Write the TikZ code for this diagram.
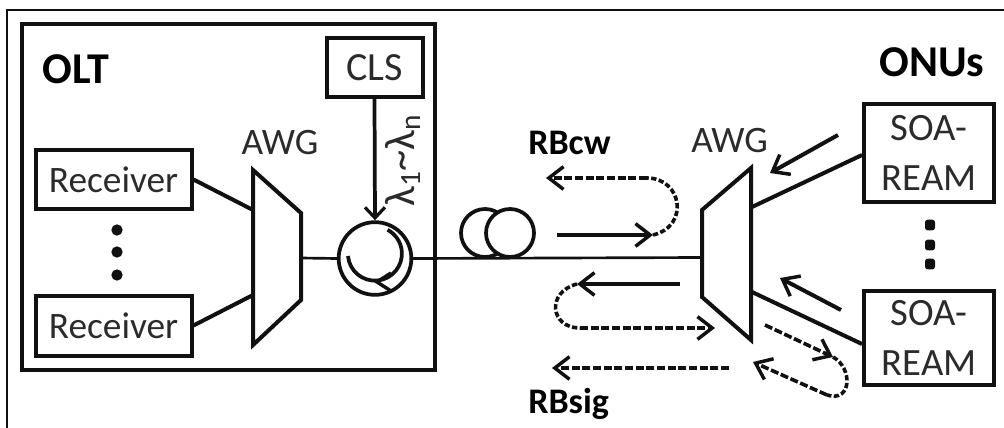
\documentclass[tikz,border=0pt]{standalone}
\usepackage{fontspec}
\setmainfont{Carlito}
\usetikzlibrary{arrows.meta}
\definecolor{ink}{HTML}{111111}
\definecolor{txt}{HTML}{2B2B2B}
\tikzset{x=0.75pt,y=-0.75pt,
 barb/.tip={Straight Barb[length=11pt,width=17pt,line width=2.6pt]},
 wire/.style={draw=ink,line width=3pt},
 fibre/.style={draw=ink,line width=2pt},
 boxnode/.style={draw=ink,line width=3pt,fill=white,align=center,inner sep=0pt,text=txt,font=\fontsize{29}{37}\selectfont},
 lab/.style={inner sep=0pt,text=txt,font=\fontsize{28}{34}\selectfont},
 boldlab/.style={inner sep=0pt,text=black,font=\bfseries\fontsize{27}{32}\selectfont},
 titlelab/.style={inner sep=0pt,text=black,font=\bfseries\fontsize{33}{38}\selectfont},
 solidarrow/.style={draw=ink,line width=3pt,-barb},
 dasharrow/.style={draw=ink,line width=2.7pt,dash pattern=on 6pt off 2pt,-barb},
 dashline/.style={draw=ink,line width=2.7pt,dash pattern=on 4pt off 1.8pt},
 dotnode/.style={circle,fill=ink,inner sep=0pt,minimum size=8.5pt},
 squaredot/.style={rectangle,rounded corners=2pt,fill=ink,inner sep=0pt,minimum width=7.5pt,minimum height=8pt},
 ring/.style={draw=ink,circle,line width=2.8pt,inner sep=0pt}}
\begin{document}
\begin{tikzpicture}
\useasboundingbox (0,0) rectangle (1004,428);
\fill[white] (0,0) rectangle (1004,428);
\draw[draw=ink,line width=1.2pt] (7,428) -- (7,10) -- (1004,10);
\node[draw=ink,line width=2.6pt,inner sep=0pt,minimum width=309.75pt,minimum height=259.5pt] (oltbox) at (228.5,197) {};
\node[titlelab] (olt) at (76,69) {OLT};
\node[boxnode,font=\fontsize{30}{36}\selectfont,minimum width=72pt,minimum height=44pt] (cls) at (374.5,67.5) {CLS};
\node[boxnode,font=\fontsize{28}{34}\selectfont,minimum width=117pt,minimum height=44pt] (rx1) at (113.5,179.5) {Receiver};
\node[boxnode,font=\fontsize{28}{34}\selectfont,minimum width=117pt,minimum height=45pt] (rx2) at (113.5,325.5) {Receiver};
\node[lab,anchor=base] (awg1) at (280,155) {AWG};
\node[lab,anchor=base] (awg2) at (729.5,152) {AWG};
\coordinate (a1l) at (253,210);
\coordinate (a1ll) at (253,295);
\coordinate (a1r) at (301,258);
\draw[wire,line join=miter] (253,170) -- (301,213) -- (301,300) -- (253,345) -- cycle;
\draw[wire] (a1l) -- (rx1.east);
\draw[wire] (a1ll) -- (rx2.east);
\node[ring,minimum size=54.5pt] (circ) at (375,258.5) {};
\draw[fibre] (a1r) -- (circ.west);
\draw[draw=ink,line width=2.8pt] (348,256) arc[start angle=175,end angle=-62,radius=27];
\draw[draw=ink,line width=2.6pt,line join=miter] (391,273) -- (377,282) -- (391,291);
\draw[draw=ink,line width=2.8pt,-{Straight Barb[length=8pt,width=15pt,line width=2.4pt]}] (cls.south) -- (circ.north);
\node[lab,rotate=90,font=\fontsize{32}{38}\selectfont] (lam) at (403,161) {λ\raisebox{-4pt}{\fontsize{22}{26}\selectfont 1}\textasciitilde λ\raisebox{-4pt}{\fontsize{22}{26}\selectfont n}};
\node[ring,minimum size=36pt] (f1) at (485,233) {};
\node[ring,minimum size=36pt,fill=white] (f2) at (510,233) {};
\coordinate (a2l) at (702,257.5);
\draw[fibre] (circ.east) -- (a2l);
\draw[wire,line join=miter] (702,210) -- (751,168) -- (751,340) -- (702,297) -- cycle;
\node[titlelab] (onus) at (932,62) {ONUs};
\node[boxnode,minimum width=98pt,minimum height=73pt] (soa1) at (929,153) {SOA-\\REAM};
\node[boxnode,minimum width=98pt,minimum height=71pt] (soa2) at (929,338) {SOA-\\REAM};
\coordinate (a2t) at (752,207);
\coordinate (a2b) at (752,292);
\coordinate (s1) at (862,155);
\coordinate (s2) at (862,344);
\draw[wire] (a2t) -- (s1);
\draw[wire] (a2b) -- (s2);
\node[dotnode] (d1) at (117,230) {};
\node[dotnode] (d2) at (117,252) {};
\node[dotnode] (d3) at (117,275) {};
\node[squaredot] (d4) at (930,225) {};
\node[squaredot] (d5) at (930,245) {};
\node[squaredot] (d6) at (930,264) {};
\node[boldlab,anchor=base west] (rbcw) at (528,155) {RBcw};
\node[boldlab,anchor=base west] (rbsig) at (528,413) {RBsig};
% arrows
\draw[solidarrow] (557,235) -- (653,235);
\draw[dashline] (653,235) .. controls (690,226) and (682,178) .. (647,178);
\draw[dasharrow] (647,178) -- (546,178);
\draw[solidarrow] (680,284) -- (577,284);
\draw[dashline] (577,284) .. controls (546,292) and (550,328) .. (580,328);
\draw[dasharrow] (580,328) -- (715,328);
\draw[dasharrow] (729,368) -- (552,368);
\draw[solidarrow] (838,135) -- (770,173);
\draw[solidarrow] (841,310) -- (780,278);
\draw[dasharrow] (765,325) -- (833,357);
\draw[dashline] (833,357) .. controls (853,368) and (852,403) .. (827,395);
\draw[dasharrow] (827,395) -- (753,362);
\end{tikzpicture}
\end{document}
